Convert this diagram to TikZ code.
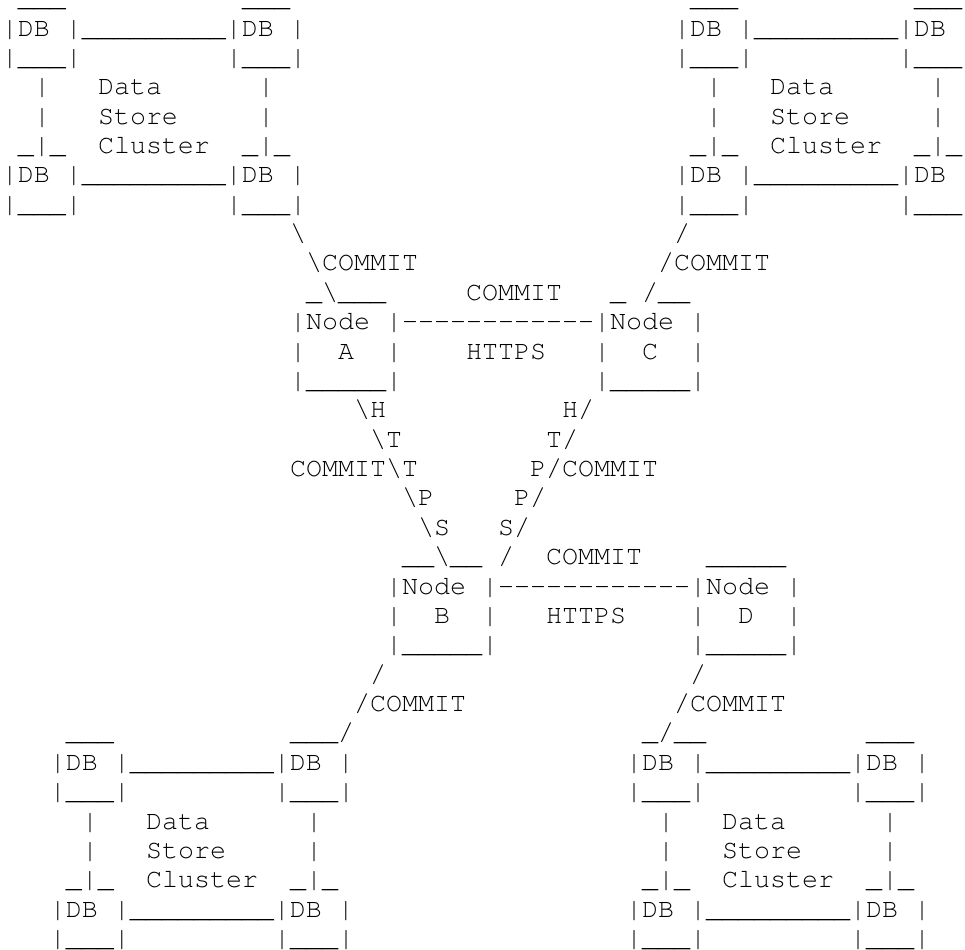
\documentclass[tikz,border=0pt]{standalone}
\usepackage[T1]{fontenc}

\newcommand{\monofont}{\fontfamily{pcr}\fontsize{20pt}{22pt}\selectfont}
\newcommand{\bs}{\textbackslash}
\newcommand{\dashline}{-{}-{}-{}-{}-{}-{}-{}-{}-{}-{}-{}-}

% one data store cluster: name, first column, row of upper DB line, right edge
\newcommand{\dbcluster}[4]{%
    \node[asc] (#1-db1) at (#2,#3) {|DB |\_\_\_\_\_\_\_\_\_|DB #4};
    \node[asc] (#1-db1l) at (#2,#3+1) {|\_\_\_|};
    \node[asc] (#1-db1r) at (#2+14,#3+1) {|\_\_\_#4};
    \node[asc] (#1-l1) at (#2+2,#3+2) {|};
    \node[asc] (#1-data) at (#2+6,#3+2) {Data};
    \node[asc] (#1-r1) at (#2+16,#3+2) {|};
    \node[asc] (#1-l2) at (#2+2,#3+3) {|};
    \node[asc] (#1-store) at (#2+6,#3+3) {Store};
    \node[asc] (#1-r2) at (#2+16,#3+3) {|};
    \node[asc] (#1-l3) at (#2+1,#3+4) {\_|\_};
    \node[asc] (#1-cluster) at (#2+6,#3+4) {Cluster};
    \node[asc] (#1-r3) at (#2+15,#3+4) {\_|\_};
    \node[asc] (#1-db2) at (#2,#3+5) {|DB |\_\_\_\_\_\_\_\_\_|DB #4};
    \node[asc] (#1-db2l) at (#2,#3+6) {|\_\_\_|};
    \node[asc] (#1-db2r) at (#2+14,#3+6) {|\_\_\_#4};
}

\begin{document}
\begin{tikzpicture}[x=12pt, y=-22.03pt,
    asc/.style={anchor=base west, inner sep=0pt, outer sep=0pt, font=\monofont}]
    \useasboundingbox (-0.125,-0.2256) rectangle (60.1875,32.083);

    % Top clusters
    \node[asc] (tl-cap1) at (1,0) {\_\_\_};
    \node[asc] (tl-cap2) at (15,0) {\_\_\_};
    \node[asc] (tr-cap1) at (43,0) {\_\_\_};
    \node[asc] (tr-cap2) at (57,0) {\_\_\_};
    \dbcluster{tl}{0}{1}{|}
    \dbcluster{tr}{42}{1}{}

    % Links down to Node A and Node C
    \node[asc] (tl-link1) at (18,8) {\bs};
    \node[asc] (tl-link2) at (19,9) {\bs COMMIT};
    \node[asc] (tr-link1) at (42,8) {/};
    \node[asc] (tr-link2) at (41,9) {/COMMIT};

    % Node A and Node C
    \node[asc] (a-top) at (19,10) {\_\bs\_\_\_};
    \node[asc] (ac-commit) at (29,10) {COMMIT};
    \node[asc] (c-top) at (38,10) {\_ /\_\_};
    \node[asc] (a-name) at (18,11) {|Node |};
    \node[asc] (ac-link) at (25,11) {\dashline};
    \node[asc] (c-name) at (37,11) {|Node |};
    \node[asc] (a-side) at (18,12) {|~~A~~|};
    \node[asc] (ac-https) at (29,12) {HTTPS};
    \node[asc] (c-side) at (37,12) {|~~C~~|};
    \node[asc] (a-bot) at (18,13) {|\_\_\_\_\_|};
    \node[asc] (c-bot) at (37,13) {|\_\_\_\_\_|};

    % HTTPS links down to Node B
    \node[asc] (ab-1) at (22,14) {\bs H};
    \node[asc] (ab-2) at (23,15) {\bs T};
    \node[asc] (ab-3) at (18,16) {COMMIT\bs T};
    \node[asc] (ab-4) at (25,17) {\bs P};
    \node[asc] (ab-5) at (26,18) {\bs S};
    \node[asc] (cb-1) at (35,14) {H/};
    \node[asc] (cb-2) at (34,15) {T/};
    \node[asc] (cb-3) at (33,16) {P/COMMIT};
    \node[asc] (cb-4) at (32,17) {P/};
    \node[asc] (cb-5) at (31,18) {S/};

    % Node B and Node D
    \node[asc] (b-top) at (25,19) {\_\_\bs\_\_};
    \node[asc] (cb-6) at (31,19) {/};
    \node[asc] (bd-commit) at (34,19) {COMMIT};
    \node[asc] (d-top) at (44,19) {\_\_\_\_\_};
    \node[asc] (b-name) at (24,20) {|Node |};
    \node[asc] (bd-link) at (31,20) {\dashline};
    \node[asc] (d-name) at (43,20) {|Node |};
    \node[asc] (b-side) at (24,21) {|~~B~~|};
    \node[asc] (bd-https) at (34,21) {HTTPS};
    \node[asc] (d-side) at (43,21) {|~~D~~|};
    \node[asc] (b-bot) at (24,22) {|\_\_\_\_\_|};
    \node[asc] (d-bot) at (43,22) {|\_\_\_\_\_|};

    % Links down to the bottom clusters
    \node[asc] (bl-link1) at (23,23) {/};
    \node[asc] (bl-link2) at (22,24) {/COMMIT};
    \node[asc] (br-link1) at (43,23) {/};
    \node[asc] (br-link2) at (42,24) {/COMMIT};

    % Bottom clusters
    \node[asc] (bl-cap1) at (4,25) {\_\_\_};
    \node[asc] (bl-cap2) at (18,25) {\_\_\_/};
    \node[asc] (br-cap1) at (40,25) {\_/\_\_};
    \node[asc] (br-cap2) at (54,25) {\_\_\_};
    \dbcluster{bl}{3}{26}{|}
    \dbcluster{br}{39}{26}{|}
\end{tikzpicture}
\end{document}
